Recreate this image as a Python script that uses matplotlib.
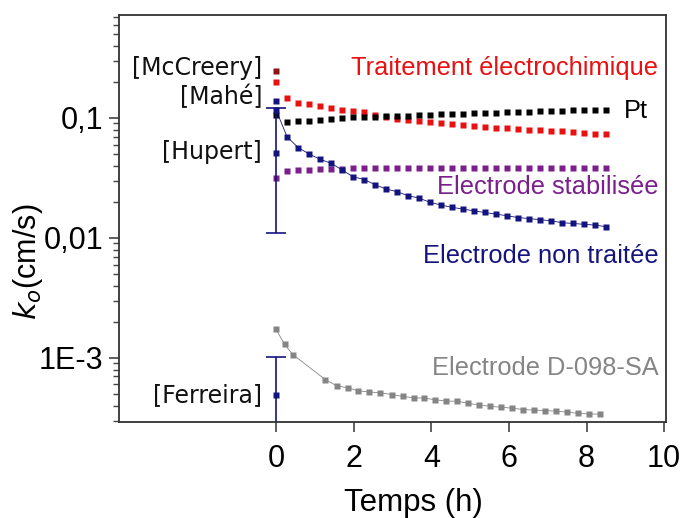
# k0 vs time, log scale, several electrodes + literature values
import numpy as np
import matplotlib
matplotlib.use("Agg")
import matplotlib.pyplot as plt
from matplotlib.ticker import FixedLocator, LogLocator, NullFormatter

plt.rcParams['font.family'] = ['Liberation Sans', 'DejaVu Sans']

# time grid (h) shared by the four 31-point series
t = [0, 0.28, 0.57, 0.85, 1.13, 1.42, 1.70, 1.98, 2.27, 2.55, 2.83,
     3.12, 3.40, 3.68, 3.97, 4.25, 4.53, 4.82, 5.10, 5.38, 5.67,
     5.95, 6.23, 6.52, 6.80, 7.08, 7.37, 7.65, 7.93, 8.22, 8.50]

k_traitement = [0.2007, 0.1459, 0.1326, 0.1301, 0.1266, 0.1204, 0.1166, 0.1150,
                0.1115, 0.1069, 0.1019, 0.0981, 0.0957, 0.0944, 0.0926, 0.0908,
                0.0898, 0.0881, 0.0858, 0.0841, 0.0825, 0.0821, 0.0811, 0.0799,
                0.0790, 0.0779, 0.0772, 0.0764, 0.0754, 0.0740, 0.0729]

k_pt = [0.1050, 0.0931, 0.0939, 0.0950, 0.0962, 0.0981, 0.1000, 0.1010,
        0.1019, 0.1029, 0.1039, 0.1043, 0.1049, 0.1059, 0.1065, 0.1073,
        0.1080, 0.1086, 0.1095, 0.1101, 0.1107, 0.1115, 0.1122, 0.1129,
        0.1137, 0.1144, 0.1148, 0.1155, 0.1160, 0.1166, 0.1166]

k_stab = [0.0318, 0.0360, 0.0368, 0.0372, 0.0376, 0.0378, 0.0379, 0.0380,
          0.0381, 0.0382, 0.0382, 0.0383, 0.0383, 0.0383, 0.0383, 0.0383,
          0.0383, 0.0383, 0.0383, 0.0383, 0.0383, 0.0383, 0.0383, 0.0383,
          0.0383, 0.0383, 0.0383, 0.0383, 0.0383, 0.0383, 0.0383]

k_nontraitee = [0.1166, 0.0699, 0.0566, 0.0501, 0.0453, 0.0419, 0.0369, 0.0324,
                0.0307, 0.0278, 0.0256, 0.0243, 0.0225, 0.0215, 0.0198, 0.0188,
                0.0180, 0.0174, 0.0168, 0.0163, 0.0158, 0.0153, 0.0148, 0.0145,
                0.0142, 0.0139, 0.0134, 0.0132, 0.0130, 0.0128, 0.0124]

t_d098 = [0, 0.22, 0.43, 1.27, 1.56, 1.84, 2.12, 2.40, 2.69, 2.98, 3.26,
          3.55, 3.82, 4.10, 4.39, 4.67, 4.95, 5.23, 5.52, 5.80, 6.07,
          6.36, 6.64, 6.93, 7.21, 7.50, 7.78, 8.06, 8.35]
k_d098 = [1.728e-3, 1.293e-3, 1.067e-3, 6.58e-4, 5.86e-4, 5.63e-4, 5.32e-4,
          5.19e-4, 5.12e-4, 4.95e-4, 4.77e-4, 4.65e-4, 4.62e-4, 4.48e-4,
          4.36e-4, 4.36e-4, 4.17e-4, 4.06e-4, 3.94e-4, 3.88e-4, 3.81e-4,
          3.71e-4, 3.67e-4, 3.64e-4, 3.60e-4, 3.53e-4, 3.45e-4, 3.41e-4, 3.39e-4]

# literature values at t = 0
lit_names = ['[McCreery]', '[Mahé]', '[Hupert]', '[Ferreira]']
lit_k = [0.248, 0.139, 0.051, 4.9e-4]
lit_colors = ['#8b1414', '#14147e', '#14147e', '#14147e']
lit_err_low = [0, 0, 0.040, 4.8e-4]
lit_err_high = [0, 0, 0.070, 5.3e-4]
lit_label_y = [0.261, 0.1496, 0.0521, 4.9e-4]

red = '#e81010'
purple = '#7a1f8c'
navy = '#14147e'
gray = '#858585'

fig = plt.figure(figsize=(6.83, 5.18), dpi=100)
ax = fig.add_axes([0.1742, 0.186, 0.801, 0.785])
ax.set_yscale('log')

ms = 5
ax.plot(t, k_traitement, 's', color=red, ms=ms, mec='none')
ax.plot(t, k_pt, 's', color='black', ms=ms, mec='none')
ax.plot(t, k_stab, 's', color=purple, ms=ms, mec='none')
ax.plot(t, k_nontraitee, 's-', color=navy, ms=ms, mec='none', lw=0.6)
ax.plot(t_d098, k_d098, 's-', color=gray, ms=ms, mec='none', lw=0.6)

for i in range(len(lit_names)):
    if lit_err_high[i] > 0:
        ax.errorbar(0, lit_k[i], yerr=[[lit_err_low[i]], [lit_err_high[i]]],
                    fmt='none', ecolor=navy, elinewidth=1.2, capsize=7, capthick=1.2)
    ax.plot(0, lit_k[i], 's', color=lit_colors[i], ms=ms, mec='none')
    ax.text(-0.36, lit_label_y[i], lit_names[i], ha='right', va='center',
            fontsize=17, family='DejaVu Sans', color='#111111')

# series labels
lab_size = 18.3
ax.text(9.85, 0.261, 'Traitement électrochimique', color=red, fontsize=lab_size,
        ha='right', va='center')
ax.text(8.97, 0.114, 'Pt', color='black', fontsize=lab_size, ha='left', va='center')
ax.text(9.85, 0.0266, 'Electrode stabilisée', color=purple, fontsize=lab_size,
        ha='right', va='center')
ax.text(9.85, 7.08e-3, 'Electrode non traitée', color=navy, fontsize=lab_size,
        ha='right', va='center')
ax.text(9.85, 8.25e-4, 'Electrode D-098-SA', color=gray, fontsize=lab_size,
        ha='right', va='center')

ax.set_xlim(-4.05, 10.05)
ax.set_ylim(2.94e-4, 0.722)

ax.set_xticks([0, 2, 4, 6, 8, 10])
ax.yaxis.set_major_locator(FixedLocator([1e-3, 1e-2, 1e-1]))
ax.set_yticklabels(['1E-3', '0,01', '0,1'])
ax.yaxis.set_minor_locator(LogLocator(base=10, subs=np.arange(2, 10)))
ax.yaxis.set_minor_formatter(NullFormatter())

ax.tick_params(axis='both', which='major', labelsize=22, direction='out',
               length=7, width=1.2, color='#444444')
ax.tick_params(axis='y', which='minor', direction='out', length=4, width=1,
               color='#444444')
ax.tick_params(axis='x', pad=9)
ax.tick_params(axis='y', pad=4)

for s in ax.spines.values():
    s.set_linewidth(1.3)
    s.set_color('#333333')

ax.set_xlabel('Temps (h)', fontsize=22.5)
ax.xaxis.set_label_coords(0.5375, -0.163)
ax.set_ylabel(r'$k_o$(cm/s)', fontsize=22)
ax.yaxis.set_label_coords(-0.135, 0.394)

fig.savefig('out.png', dpi=100)
